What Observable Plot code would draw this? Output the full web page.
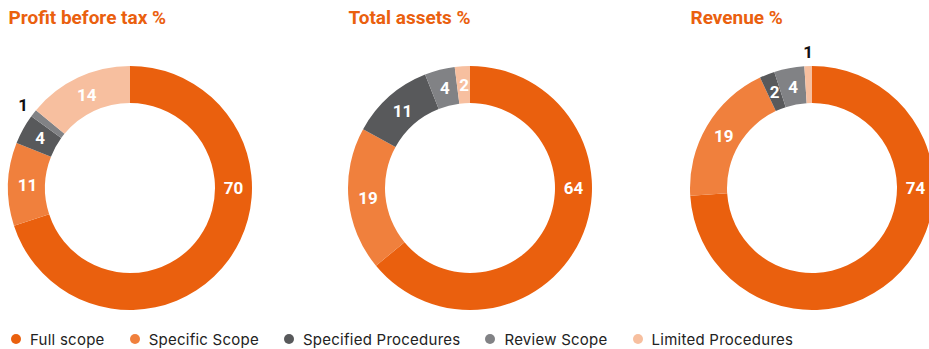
<!DOCTYPE html>
<html>
<head>
<meta charset="utf-8">
<script src="https://cdn.jsdelivr.net/npm/d3@7"></script>
<script src="https://cdn.jsdelivr.net/npm/@observablehq/plot@0.6"></script>
<style>
  html, body { margin: 0; padding: 0; background: #fff; overflow: hidden; }
  #chart { width: 929px; height: 349px; position: relative; }
  #chart svg.donuts { display: block; overflow: hidden; }
  .lg-swatches {
    font-family: Inter, "Noto Sans", sans-serif !important;
    font-size: 15px !important;
    letter-spacing: 0.25px;
    color: #222 !important;
    margin: 0 0 0 11px !important;
    min-height: 26px !important;
    display: flex !important;
    align-items: center !important;
  }
  .lg-swatch { margin-right: 25px !important; display: inline-flex !important; align-items: center !important; }
  .lg-swatch > svg { border-radius: 50%; overflow: hidden !important; margin-right: 9px !important; }
</style>
</head>
<body>
<div id="chart"></div>
<script>
// Scope categories and their colours
const categories = ["Full scope", "Specific Scope", "Specified Procedures", "Review Scope", "Limited Procedures"];
const colors = ["#EA600E", "#F0803D", "#58595B", "#818285", "#F7BF9F"];

// Percentage split per measure (same order as categories)
const titles = ["Profit before tax %", "Total assets %", "Revenue %"];
const profitBeforeTax = [70, 11, 4, 1, 14];
const totalAssets = [64, 19, 11, 4, 2];
const revenue = [74, 19, 2, 4, 1];

const W = 929, H = 326;
const centersX = [130, 470, 812];
const centerY = 188;
const outerR = 122, innerR = 85, labelR = 103, outsideR = 136;

const color = Plot.scale({color: {type: "ordinal", domain: categories, range: colors}});

const series = [profitBeforeTax, totalAssets, revenue];
const pie = d3.pie().sort(null).value(d => d.value).startAngle(0).endAngle(2 * Math.PI);

// One record per slice, with its angles and donut index
const slices = series.flatMap((vals, i) =>
  pie(vals.map((v, k) => ({value: v, category: categories[k], chart: i})))
    .map(a => ({...a.data, startAngle: a.startAngle, endAngle: a.endAngle}))
);

// Label placement: the main slice is labelled at 3 o'clock, tiny slices outside the ring
const labels = slices.map(s => {
  const main = s.category === categories[0];
  const small = s.value <= 1;
  const theta = main ? Math.PI / 2 : (s.startAngle + s.endAngle) / 2;
  const r = small ? outsideR : labelR;
  return {
    text: String(s.value),
    x: centersX[s.chart] + r * Math.sin(theta),
    y: centerY - r * Math.cos(theta),
    fill: small ? "#111" : "#fff"
  };
});

const titleRows = titles.map((t, i) => ({text: t, x: centersX[i] - outerR, y: 17.5}));

// Ring segments drawn with d3.arc, positioned through the plot's x/y scales
function donutArcs(index, scales) {
  const sx = scales.x || (v => v), sy = scales.y || (v => v);
  const g = d3.create("svg:g");
  const arc = d3.arc().innerRadius(innerR).outerRadius(outerR);
  g.selectAll("path")
    .data(slices)
    .join("path")
    .attr("transform", d => `translate(${sx(centersX[d.chart])},${sy(centerY)})`)
    .attr("d", d => arc({startAngle: d.startAngle, endAngle: d.endAngle}))
    .attr("fill", d => color.apply(d.category));
  return g.node();
}

const plot = Plot.plot({
  width: W,
  height: H,
  margin: 0,
  x: {domain: [0, W], range: [0, W], axis: null},
  y: {domain: [0, H], range: [0, H], axis: null},
  className: "donuts",
  style: {background: "#fff", overflow: "hidden"},
  marks: [
    donutArcs,
    Plot.text(labels, {
      x: "x", y: "y", text: "text", fill: "fill",
      fontFamily: "Roboto, sans-serif", fontWeight: 700, fontSize: 17
    }),
    Plot.text(titleRows, {
      x: "x", y: "y", text: "text", textAnchor: "start",
      fill: "#EA600E", fontFamily: "Roboto, sans-serif", fontWeight: 700, fontSize: 19
    })
  ]
});

const legend = Plot.legend({
  color: {type: "ordinal", domain: categories, range: colors},
  swatchSize: 10,
  className: "lg"
});

const root = document.getElementById("chart");
root.appendChild(plot);
root.appendChild(legend);
</script>
</body>
</html>
